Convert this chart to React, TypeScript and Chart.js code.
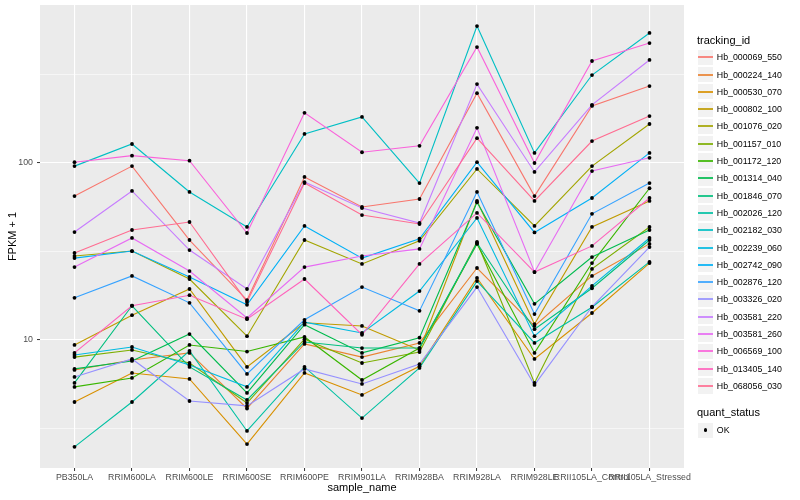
import React, { useEffect, useRef } from "react";
import { Chart, registerables } from "chart.js";

Chart.register(...registerables);

const FONT = "'Liberation Sans', Arial, Helvetica, sans-serif";

const categories = [
  "PB350LA",
  "RRIM600LA",
  "RRIM600LE",
  "RRIM600SE",
  "RRIM600PE",
  "RRIM901LA",
  "RRIM928BA",
  "RRIM928LA",
  "RRIM928LE",
  "RRII105LA_Control",
  "RRII105LA_Stressed",
];

const trackingIds = [
  "Hb_000069_550",
  "Hb_000224_140",
  "Hb_000530_070",
  "Hb_000802_100",
  "Hb_001076_020",
  "Hb_001157_010",
  "Hb_001172_120",
  "Hb_001314_040",
  "Hb_001846_070",
  "Hb_002026_120",
  "Hb_002182_030",
  "Hb_002239_060",
  "Hb_002742_090",
  "Hb_002876_120",
  "Hb_003326_020",
  "Hb_003581_220",
  "Hb_003581_260",
  "Hb_006569_100",
  "Hb_013405_140",
  "Hb_068056_030",
];

const seriesColors = [
  "#F8766D", "#EA8331", "#D89000", "#C09B00", "#A3A500",
  "#7CAE00", "#39B600", "#00BB4E", "#00BF7D", "#00C1A3",
  "#00BFC4", "#00BAE0", "#00B0F6", "#35A2FF", "#9590FF",
  "#C77CFF", "#E76BF3", "#FA62DB", "#FF62BC", "#FF6C91",
];

// FPKM + 1 per sample (same order as categories)
const hb000069_550 = [65, 96, 36.7, 16.8, 83.4, 56.4, 62.6, 248, 65, 210, 272];
const hb000224_140 = [6.77, 7.7, 8.45, 4.1, 9.5, 8.0, 9.62, 25.5, 12.0, 23.0, 34.9];
const hb000530_070 = [4.46, 6.51, 6.02, 2.58, 6.51, 4.89, 7.1, 22.4, 7.81, 14.2, 27.2];
const hb000802_100 = [9.37, 13.8, 19.4, 7.04, 12.5, 12.0, 8.78, 61, 12.3, 43.5, 61];
const hb001076_020 = [29.8, 31.8, 22.1, 10.5, 36.7, 26.9, 36.3, 92.5, 44.1, 96, 166];
const hb001157_010 = [8.0, 8.78, 7.41, 4.4, 10.1, 7.41, 8.55, 35.8, 5.72, 25.2, 43.5];
const hb001172_120 = [5.43, 6.1, 9.37, 8.6, 10.4, 5.94, 9.0, 34.9, 8.45, 27.2, 72];
const hb001314_040 = [6.86, 7.61, 10.8, 5.02, 12.2, 8.45, 10.3, 60, 16, 29.4, 41.8];
const hb001846_070 = [5.72, 15.6, 7.04, 4.58, 9.74, 9.0, 9.0, 35.3, 11.5, 19.6, 36.7];
const hb002026_120 = [2.49, 4.46, 8.67, 3.06, 7.04, 3.62, 6.95, 21.5, 9.62, 15.3, 27.6];
const hb002182_030 = [96, 128, 68.6, 43.5, 146, 182, 77, 594, 114, 314, 543];
const hb002239_060 = [8.23, 9.13, 7.22, 5.43, 12.6, 10.95, 18.9, 48.9, 10.5, 20.2, 37.7];
const hb002742_090 = [29, 31.8, 22.7, 15.8, 44.1, 29, 37.3, 101, 40.5, 63.4, 114];
const hb002876_120 = [17.3, 23, 16.2, 6.43, 13, 19.9, 14.6, 68.6, 14, 51.6, 77];
const hb003326_020 = [6.18, 7.81, 4.52, 4.24, 6.86, 5.64, 7.3, 19.9, 5.57, 15.4, 33.5];
const hb003581_220 = [40.7, 69.5, 32.2, 19.4, 78, 55.6, 45.8, 279, 89, 213, 382];
const hb003581_260 = [25.8, 37.7, 24.5, 13.3, 25.8, 29.8, 32.7, 158, 24.2, 90, 107];
const hb006569_100 = [101, 110, 103, 40.2, 192, 115, 125, 452, 100, 377, 476];
const hb013405_140 = [8.45, 15.6, 17.9, 13.1, 22.1, 10.7, 26.9, 52.2, 24.2, 34, 63.4];
const hb068056_030 = [31, 41.8, 46.4, 16.4, 77, 50.8, 45.2, 138, 61, 133, 184];

const seriesValues = [
  hb000069_550, hb000224_140, hb000530_070, hb000802_100, hb001076_020,
  hb001157_010, hb001172_120, hb001314_040, hb001846_070, hb002026_120,
  hb002182_030, hb002239_060, hb002742_090, hb002876_120, hb003326_020,
  hb003581_220, hb003581_260, hb006569_100, hb013405_140, hb068056_030,
];

const yTickValues = [3.1623, 10, 31.623, 100, 316.23];
const yTickLabels = ["", "10", "", "100", ""];

const panelBg = {
  id: "panelBg",
  beforeDraw(chart: any) {
    const { ctx, chartArea } = chart;
    ctx.save();
    ctx.fillStyle = "#FFFFFF";
    ctx.fillRect(0, 0, chart.width, chart.height);
    ctx.fillStyle = "#EBEBEB";
    ctx.fillRect(chartArea.left, chartArea.top, chartArea.right - chartArea.left, chartArea.bottom - chartArea.top);
    ctx.restore();
  },
};

export default function App() {
  const canvasRef = useRef<HTMLCanvasElement | null>(null);

  useEffect(() => {
    if (!canvasRef.current) return;
    const lineSets = seriesValues.map((vals, i) => ({
      type: "line" as const,
      label: trackingIds[i],
      data: vals.map((v, j) => ({ x: j, y: v })),
      borderColor: seriesColors[i],
      backgroundColor: seriesColors[i],
      borderWidth: 1.1,
      pointRadius: 0,
      tension: 0,
      fill: false,
      order: 20 - i,
    }));
    const pointSet = {
      type: "scatter" as const,
      label: "OK",
      data: seriesValues.flatMap((vals) => vals.map((v, j) => ({ x: j, y: v }))),
      backgroundColor: "#000000",
      borderColor: "#000000",
      borderWidth: 0,
      pointRadius: 1.9,
      showLine: false,
      order: 0,
    };
    const chart = new Chart(canvasRef.current, {
      type: "line",
      data: { datasets: [...lineSets, pointSet] as any },
      plugins: [panelBg],
      options: {
        animation: false,
        responsive: false,
        devicePixelRatio: 1,
        layout: { padding: { top: 5, right: 116, left: 0, bottom: 0 } },
        plugins: { legend: { display: false }, tooltip: { enabled: false } },
        scales: {
          x: {
            type: "linear",
            min: -0.6,
            max: 10.6,
            afterBuildTicks: (s: any) => {
              s.ticks = categories.map((_, i) => ({ value: i }));
            },
            afterFit: (s: any) => {
              s.height = 32;
              s.paddingLeft = 0;
              s.paddingRight = 0;
            },
            ticks: {
              autoSkip: false,
              maxRotation: 0,
              minRotation: 0,
              padding: 1,
              color: "#4D4D4D",
              font: { family: FONT, size: 8.8 },
              callback: (v: any) => categories[Number(v)] ?? "",
            },
            grid: {
              color: "#FFFFFF",
              lineWidth: 1.1,
              drawTicks: true,
              tickLength: 3,
              tickColor: "#333333",
              tickWidth: 1,
            },
            border: { display: false },
            title: {
              display: true,
              text: "sample_name",
              color: "#000000",
              font: { family: FONT, size: 11 },
              padding: { top: 0, bottom: 5 },
            },
          },
          y: {
            type: "logarithmic",
            min: 1.89,
            max: 781,
            afterBuildTicks: (s: any) => {
              s.ticks = yTickValues.map((v) => ({ value: v }));
            },
            afterFit: (s: any) => {
              s.width = 40;
              s.paddingTop = 0;
              s.paddingBottom = 0;
            },
            ticks: {
              autoSkip: false,
              padding: 4,
              color: "#4D4D4D",
              font: { family: FONT, size: 8.8 },
              callback: (_v: any, i: number) => yTickLabels[i] ?? "",
            },
            grid: {
              color: "#FFFFFF",
              lineWidth: (ctx: any) => (yTickLabels[ctx.index] ? 1.1 : 0.55),
              drawTicks: true,
              tickLength: 3,
              tickColor: (ctx: any) => (yTickLabels[ctx.index] ? "#333333" : "rgba(0,0,0,0)"),
              tickWidth: 1,
            },
            border: { display: false },
            title: {
              display: true,
              text: "FPKM + 1",
              color: "#000000",
              font: { family: FONT, size: 11 },
              padding: { top: 6, bottom: 0 },
            },
          },
        },
      } as any,
    });
    return () => chart.destroy();
  }, []);

  const keyTop0 = 48.6;
  const keyStep = 17.3;

  return (
    <div style={{ position: "absolute", left: 0, top: 0, width: 800, height: 500, background: "#fff", fontFamily: FONT }}>
      <canvas ref={canvasRef} width={800} height={500} style={{ position: "absolute", left: 0, top: 0, width: 800, height: 500 }} />
      <div style={{ position: "absolute", left: 697, top: 34, fontSize: 11, lineHeight: "13px", color: "#000" }}>tracking_id</div>
      {trackingIds.map((id, i) => {
        const top = keyTop0 + i * keyStep;
        const lineTop = Math.round(top + keyStep / 2 - 1);
        return (
          <React.Fragment key={id}>
            <div style={{ position: "absolute", left: 697, top, width: keyStep, height: keyStep, background: "#F2F2F2", boxSizing: "border-box", border: "0.6px solid #FFFFFF" }} />
            <div style={{ position: "absolute", left: 698, top: lineTop, width: 15, height: 2, background: seriesColors[i], opacity: 0.85 }} />
            <div style={{ position: "absolute", left: 716.8, top, height: keyStep, display: "flex", alignItems: "center", fontSize: 8.8, color: "#000", whiteSpace: "nowrap" }}>{id}</div>
          </React.Fragment>
        );
      })}
      <div style={{ position: "absolute", left: 697, top: 405.5, fontSize: 11, lineHeight: "13px", color: "#000" }}>quant_status</div>
      <div style={{ position: "absolute", left: 697, top: 421.5, width: keyStep, height: keyStep, background: "#F2F2F2", boxSizing: "border-box", border: "0.6px solid #FFFFFF" }} />
      <div style={{ position: "absolute", left: 703.9, top: 428.4, width: 3.6, height: 3.6, borderRadius: "50%", background: "#000" }} />
      <div style={{ position: "absolute", left: 716.8, top: 421.5, height: keyStep, display: "flex", alignItems: "center", fontSize: 8.8, color: "#000" }}>OK</div>
    </div>
  );
}
